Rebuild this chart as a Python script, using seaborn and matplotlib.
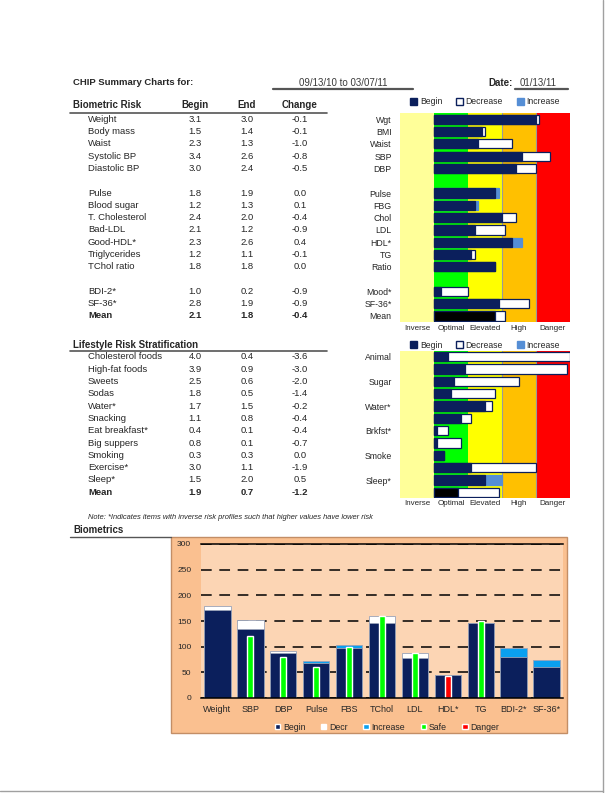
import matplotlib
matplotlib.use('Agg')
import matplotlib.pyplot as plt
from matplotlib.lines import Line2D
from matplotlib.patches import Patch, Rectangle
import numpy as np
import pandas as pd
import seaborn as sns

W, H = 613, 793

# ---- data ----
header_dates = '09/13/10 to 03/07/11'
report_date = '01/13/11'

bio_items = ['Weight', 'Body mass', 'Waist', 'Systolic BP', 'Diastolic BP',
             'Pulse', 'Blood sugar', 'T. Cholesterol', 'Bad-LDL', 'Good-HDL*',
             'Triglycerides', 'TChol ratio', 'BDI-2*', 'SF-36*', 'Mean']
bio_short = ['Wgt', 'BMI', 'Waist', 'SBP', 'DBP',
             'Pulse', 'FBG', 'Chol', 'LDL', 'HDL*', 'TG', 'Ratio',
             'Mood*', 'SF-36*', 'Mean']
bio_begin = [3.1, 1.5, 2.3, 3.4, 3.0, 1.8, 1.2, 2.4, 2.1, 2.3, 1.2, 1.8, 1.0, 2.8, 2.1]
bio_end = [3.0, 1.4, 1.3, 2.6, 2.4, 1.9, 1.3, 2.0, 1.2, 2.6, 1.1, 1.8, 0.2, 1.9, 1.8]
bio_change = [-0.1, -0.1, -1.0, -0.8, -0.5, 0.0, 0.1, -0.4, -0.9, 0.4, -0.1, 0.0, -0.9, -0.9, -0.4]
bio_groups = [5, 7, 3]

life_items = ['Cholesterol foods', 'High-fat foods', 'Sweets', 'Sodas', 'Water*',
              'Snacking', 'Eat breakfast*', 'Big suppers', 'Smoking', 'Exercise*',
              'Sleep*', 'Mean']
life_short = ['Animal', '', 'Sugar', '', 'Water*', '', 'Brkfst*', '', 'Smoke', '',
              'Sleep*', '']
life_begin = [4.0, 3.9, 2.5, 1.8, 1.7, 1.1, 0.4, 0.8, 0.3, 3.0, 1.5, 1.9]
life_end = [0.4, 0.9, 0.6, 0.5, 1.5, 0.8, 0.1, 0.1, 0.3, 1.1, 2.0, 0.7]
life_change = [-3.6, -3.0, -2.0, -1.4, -0.2, -0.4, -0.4, -0.7, 0.0, -1.9, 0.5, -1.2]

band_edges = [-1, 0, 1, 2, 3, 4]
band_names = ['Inverse', 'Optimal', 'Elevated', 'High', 'Danger']
band_colors = ['#FFFF99', '#00FF00', '#FFFF00', '#FFC000', '#FF0000']

bm_labels = ['Weight', 'SBP', 'DBP', 'Pulse', 'FBS', 'TChol', 'LDL', 'HDL*', 'TG',
             'BDI-2*', 'SF-36*']
bm_begin = [180, 152, 91, 69, 97, 160, 87, 44, 146, 80, 61]
bm_end = [172, 134, 87, 72, 103, 147, 77, 44, 146, 97, 74]
bm_safe = [np.nan, 120, 80, 60, 100, 160, 88, np.nan, 150, np.nan, np.nan]
bm_danger = [np.nan, np.nan, np.nan, np.nan, np.nan, np.nan, np.nan, 43, np.nan, np.nan, np.nan]

NAVY = '#0B1F5C'
BLUE = '#558ED5'

sns.set_style('white')
plt.rcParams['font.family'] = ['Liberation Sans', 'DejaVu Sans']

fig = plt.figure(figsize=(W / 100, H / 100), dpi=100)


def px_axes(x0, y0, x1, y1):
    return fig.add_axes([x0 / W, 1 - y1 / H, (x1 - x0) / W, (y1 - y0) / H])


def ftext(x, y, s, **kw):
    kw.setdefault('va', 'center')
    fig.text(x / W, 1 - y / H, s, **kw)


def hline(x0, x1, y, color='#555555', lw=1.2):
    fig.add_artist(Line2D([x0 / W, x1 / W], [1 - y / H] * 2, color=color, lw=lw))


def change_frame(short, begin, end):
    df = pd.DataFrame({'item': short, 'begin': begin, 'end': end})
    df['low'] = df[['begin', 'end']].min(axis=1)
    df['high'] = df[['begin', 'end']].max(axis=1)
    df['kind'] = np.where(df['end'] < df['begin'], 'Decrease',
                          np.where(df['end'] > df['begin'], 'Increase', 'Same'))
    df['base'] = np.where(df['item'] == 'Mean', 'Mean', 'Begin')
    return df


def risk_chart(ax, df, order, ticklabels, legend_y, bands_label_y):
    for lo, hi, c in zip(band_edges[:-1], band_edges[1:], band_colors):
        ax.axvspan(lo, hi, color=c, lw=0, zorder=0)
    for x in band_edges[3:5]:
        ax.axvline(x, color='#9A9A9A', lw=0.8, zorder=0.5)
    sns.barplot(data=df, x='high', y='item', order=order, hue='kind', dodge=False,
                palette={'Decrease': 'white', 'Increase': BLUE, 'Same': NAVY},
                saturation=1, width=0.75, edgecolor=NAVY, linewidth=0.9,
                errorbar=None, legend=False, ax=ax)
    for cont in ax.containers:
        for p in cont.patches:
            if matplotlib.colors.to_hex(p.get_facecolor()).upper() == BLUE.upper():
                p.set_edgecolor(BLUE)
    sns.barplot(data=df, x='low', y='item', order=order, hue='base', dodge=False,
                palette={'Begin': NAVY, 'Mean': 'black'},
                saturation=1, width=0.75, edgecolor=NAVY, linewidth=0.9,
                errorbar=None, legend=False, ax=ax)
    ax.set_xlim(band_edges[0], band_edges[-1])
    ax.set_xticks([])
    ax.set_yticks(range(len(order)))
    ax.set_yticklabels(ticklabels)
    ax.tick_params(axis='y', length=0, pad=6, labelsize=6.3)
    ax.set_xlabel('')
    ax.set_ylabel('')
    for s in ax.spines.values():
        s.set_visible(False)
    for lo, hi, name in zip(band_edges[:-1], band_edges[1:], band_names):
        ax.text((lo + hi) / 2, 0, name, transform=ax.get_xaxis_transform(),
                ha='center', va='center', fontsize=5.8)
    handles = [Patch(fc=NAVY, ec=NAVY), Patch(fc='white', ec=NAVY, lw=1),
               Patch(fc=BLUE, ec=BLUE)]
    fig.legend(handles, ['Begin', 'Decrease', 'Increase'], loc='center',
               bbox_to_anchor=(485 / W, 1 - legend_y / H), ncol=3, frameon=False,
               fontsize=6.2, handlelength=0.8, handleheight=0.8, handletextpad=0.3,
               columnspacing=1.6, borderpad=0)


# ---- header ----
ftext(73, 82.5, 'CHIP Summary Charts for:', fontsize=6.8, fontweight='bold')
ftext(343, 82.5, header_dates, fontsize=7, ha='center', color='#3A3A3A')
hline(273, 413, 88.5, lw=1.6)
ftext(488, 82.5, 'Date:', fontsize=7, fontweight='bold')
ftext(520, 82.5, report_date, fontsize=7, color='#3A3A3A')
hline(515, 568, 88.5, lw=1.6)

col_x = [195, 247, 300]

# ---- biometric table ----
ftext(73, 105.5, 'Biometric Risk', fontsize=7, fontweight='bold')
for x, name in zip(col_x, ['Begin', 'End', 'Change']):
    ftext(x, 105.5, name, fontsize=7, fontweight='bold', ha='center')
hline(70, 327, 112.5)

bio_order = []
bio_rows = []
k = 0
for gi, n in enumerate(bio_groups):
    for _ in range(n):
        bio_rows.append(len(bio_order))
        bio_order.append(bio_short[k])
        k += 1
    if gi < len(bio_groups) - 1:
        bio_order.append(' ' * (gi + 1))

pitch = 12.29
for r, name, b, e, c in zip(bio_rows, bio_items, bio_begin, bio_end, bio_change):
    y = 119.3 + r * pitch
    bold = name == 'Mean'
    ftext(88, y, name, fontsize=6.8, fontweight='bold' if bold else 'normal')
    for x, v in zip(col_x, [b, e, c]):
        ftext(x, y, f'{v:.1f}', fontsize=6.8, ha='center',
              fontweight='bold' if bold else 'normal')

ax1 = px_axes(400, 119.3 - pitch / 2, 570, 119.3 + 16.5 * pitch)
risk_chart(ax1, change_frame(bio_short, bio_begin, bio_end), bio_order,
           [s if s.strip() else '' for s in bio_order], 102, 328)
for t in ax1.texts:
    t.set_y(-6 / (16.5 * pitch + pitch / 2 - pitch))

# ---- lifestyle table ----
ftext(73, 345, 'Lifestyle Risk Stratification', fontsize=7, fontweight='bold')
hline(70, 327, 351.5)
lpitch = 12.33
for r, (name, b, e, c) in enumerate(zip(life_items, life_begin, life_end, life_change)):
    y = 356.7 + r * lpitch
    bold = name == 'Mean'
    ftext(88, y, name, fontsize=6.8, fontweight='bold' if bold else 'normal')
    for x, v in zip(col_x, [b, e, c]):
        ftext(x, y, f'{v:.1f}', fontsize=6.8, ha='center',
              fontweight='bold' if bold else 'normal')

ax2 = px_axes(400, 356.7 - lpitch / 2, 570, 356.7 + 11.5 * lpitch)
risk_chart(ax2, change_frame(life_items, life_begin, life_end), life_items,
           life_short, 345, 503)
for t in ax2.texts:
    t.set_y(-5.5 / (12 * lpitch))

ftext(88, 517.5, 'Note: *Indicates items with inverse risk profiles such that '
      'higher values have lower risk', fontsize=5.4, style='italic')

# ---- biometrics chart ----
ftext(73, 530, 'Biometrics', fontsize=7, fontweight='bold')
hline(70, 171, 537, color='#555555', lw=1.0)
fig.add_artist(Rectangle((171 / W, 1 - 733 / H), (567 - 171) / W, (733 - 537) / H,
                         transform=fig.transFigure, fc='#FAC090', ec='#C38E66',
                         lw=1.0, zorder=0))

ax3 = px_axes(201, 544, 563, 698)
ax3.set_facecolor('#FCD5B4')
bm = change_frame(bm_labels, bm_begin, bm_end)
sns.barplot(data=bm, x='item', y='high', order=bm_labels, hue='kind', dodge=False,
            palette={'Decrease': 'white', 'Increase': '#0AA0F0', 'Same': NAVY},
            saturation=1, width=0.8, edgecolor='#9AA3B8', linewidth=0.6,
            errorbar=None, legend=False, ax=ax3)
sns.barplot(data=bm, x='item', y='low', order=bm_labels, color=NAVY,
            saturation=1, width=0.8, edgecolor='#9AA3B8', linewidth=0.6,
            errorbar=None, ax=ax3)
marks = pd.concat([
    pd.DataFrame({'item': bm_labels, 'value': bm_safe, 'status': 'Safe'}),
    pd.DataFrame({'item': bm_labels, 'value': bm_danger, 'status': 'Danger'}),
]).dropna()
sns.barplot(data=marks, x='item', y='value', order=bm_labels, hue='status',
            dodge=False, palette={'Safe': '#00FF00', 'Danger': '#FF0000'},
            saturation=1, width=0.18, errorbar=None, legend=False, ax=ax3)
ax3.set_ylim(0, 300)
ax3.set_xlim(-0.5, len(bm_labels) - 0.5)
ax3.set_yticks(range(0, 301, 50))
ax3.set_axisbelow(True)
ax3.yaxis.grid(True, color='black', lw=1.1, linestyle=(0, (7, 5)))
ax3.set_xlabel('')
ax3.set_ylabel('')
ax3.tick_params(axis='y', length=0, pad=7, labelsize=6)
ax3.tick_params(axis='x', which='major', length=0, pad=5, labelsize=6.5)
ax3.set_xticks(np.arange(0.5, len(bm_labels) - 1, 1), minor=True)
ax3.tick_params(axis='x', which='minor', length=3, width=0.8, direction='out')
for side in ['left', 'right']:
    ax3.spines[side].set_visible(False)
ax3.spines['top'].set_color('black')
ax3.spines['top'].set_linewidth(1.1)
ax3.spines['bottom'].set_color('black')
ax3.spines['bottom'].set_linewidth(1.1)

bm_handles = [Patch(fc=NAVY), Patch(fc='white'), Patch(fc='#0AA0F0'),
              Patch(fc='#00FF00'), Patch(fc='#FF0000')]
fig.legend(bm_handles, ['Begin', 'Decr', 'Increase', 'Safe', 'Danger'], loc='center',
           bbox_to_anchor=(387 / W, 1 - 727 / H), ncol=5, frameon=False,
           fontsize=6.3, handlelength=0.6, handleheight=0.6, handletextpad=0.3,
           columnspacing=1.8, borderpad=0)

# page edge
fig.add_artist(Line2D([603 / W] * 2, [0, 1], color='#A0A0A0', lw=1))
fig.add_artist(Line2D([0, 603 / W], [1 - 791 / H] * 2, color='#A0A0A0', lw=1))

fig.savefig('out.png', dpi=100)
